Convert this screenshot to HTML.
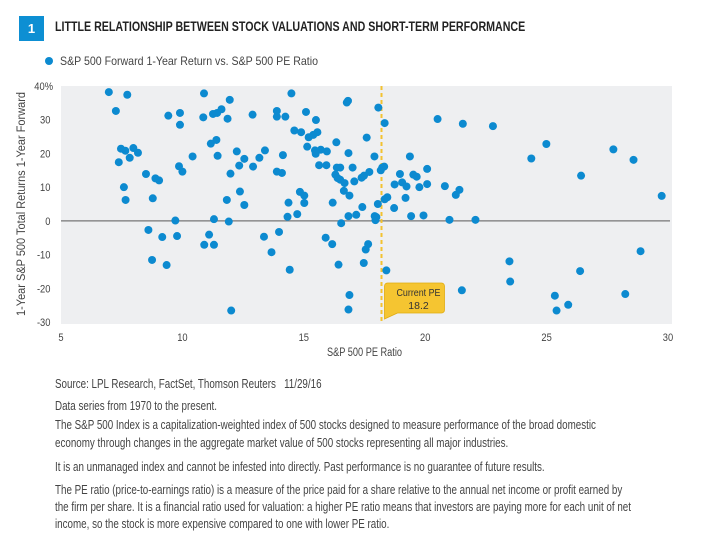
<!DOCTYPE html>
<html><head><meta charset="utf-8"><style>
body{margin:0;background:#fff;width:728px;height:556px;overflow:hidden;font-family:"Liberation Sans",sans-serif;}
.t{position:absolute;color:#444;font-size:12.5px;line-height:16px;white-space:nowrap;transform:scaleX(0.785);transform-origin:0 0;}
</style></head><body>
<div style="position:relative;width:728px;height:556px;overflow:hidden">
<div style="position:absolute;left:19px;top:16px;width:25px;height:25px;background:#0d8fd3;color:#fff;font:bold 13px 'Liberation Sans',sans-serif;text-align:center;line-height:25px;">1</div>
<div style="position:absolute;left:55px;top:19px;font:bold 13.5px 'Liberation Sans',sans-serif;color:#222;white-space:nowrap;transform:scaleX(0.79);transform-origin:0 0;">LITTLE RELATIONSHIP BETWEEN STOCK VALUATIONS AND SHORT-TERM PERFORMANCE</div>
<svg width="728" height="380" style="position:absolute;left:0;top:0" id="chart" font-family="Liberation Sans, sans-serif"></svg>
<div class="t" style="left:55px;top:376px">Source: LPL Research, FactSet, Thomson Reuters &nbsp;&nbsp;11/29/16</div>
<div class="t" style="left:55px;top:398px">Data series from 1970 to the present.</div>
<div class="t" style="left:55px;top:416px;line-height:18px">The S&amp;P 500 Index is a capitalization-weighted index of 500 stocks designed to measure performance of the broad domestic<br>economy through changes in the aggregate market value of 500 stocks representing all major industries.</div>
<div class="t" style="left:55px;top:459px">It is an unmanaged index and cannot be infested into directly. Past performance is no guarantee of future results.</div>
<div class="t" style="left:55px;top:482px;line-height:17px">The PE ratio (price-to-earnings ratio) is a measure of the price paid for a share relative to the annual net income or profit earned by<br>the firm per share. It is a financial ratio used for valuation: a higher PE ratio means that investors are paying more for each unit of net<br>income, so the stock is more expensive compared to one with lower PE ratio.</div>
</div>
<script>
const peValues=[6.97,7.73,7.26,9.42,9.9,9.9,10.89,11.95,10.86,11.26,11.43,11.61,11.86,12.89,7.47,7.65,7.98,8.17,7.83,7.38,10.42,11.17,11.4,11.45,12.24,12.55,12.34,12.91,13.17,9.86,10.0,8.5,8.89,9.04,11.98,7.59,7.66,8.78,11.83,12.37,12.55,9.71,11.3,11.91,8.6,9.17,9.78,11.1,10.9,11.3,8.75,9.35,12.01,
14.49,13.89,13.89,14.24,15.09,15.5,16.77,16.82,18.07,18.33,20.51,14.61,14.89,15.56,15.39,15.2,15.14,16.34,17.59,13.4,14.14,15.46,15.49,15.7,15.95,16.84,17.91,19.37,13.89,14.1,15.63,15.93,16.36,16.5,17.01,18.17,18.23,18.31,16.3,16.39,16.5,16.68,17.08,17.38,17.48,17.7,18.96,18.74,19.05,19.23,19.51,19.65,19.76,20.08,20.08,20.81,14.84,15.02,14.37,15.02,16.19,16.65,16.88,17.41,18.05,18.33,18.44,19.19,18.72,14.33,14.73,16.84,17.16,17.92,17.99,17.95,19.42,19.93,21.0,16.54,13.36,13.98,13.67,14.42,15.9,16.17,17.55,17.65,16.43,17.47,18.4,16.88,16.84,
21.55,22.79,24.99,24.37,27.75,28.58,26.42,29.74,21.41,21.26,22.07,28.87,23.47,23.5,26.38,21.51,28.24,25.34,25.41,25.89];
const returnValues=[38.2,37.4,32.6,31.2,32.0,28.5,37.8,35.9,30.7,31.7,32.0,33.1,30.3,31.5,21.4,20.8,21.6,20.2,18.7,17.4,19.1,22.9,24.0,19.3,20.6,18.4,16.4,16.1,18.7,16.2,14.6,13.9,12.6,12.0,14.0,10.0,6.2,6.7,6.2,8.7,4.7,0.1,0.5,-0.2,-2.7,-4.8,-4.5,-4.1,-7.1,-7.1,-11.6,-13.1,-26.6,
37.8,32.6,30.9,30.9,32.3,29.9,35.1,35.6,33.6,29.0,30.2,26.8,26.3,26.3,25.5,24.8,22.0,23.3,24.7,20.9,19.5,20.9,19.9,21.1,20.6,20.1,19.1,19.1,14.6,14.2,16.5,16.5,15.8,15.8,15.8,15.0,15.8,16.1,13.7,12.7,12.2,11.2,11.7,12.8,13.4,14.5,13.9,10.8,11.4,10.2,13.7,13.1,10.0,15.4,10.9,10.3,8.6,7.5,5.4,5.3,5.4,8.9,7.5,4.1,5.0,6.4,7.0,6.8,3.8,1.2,2.0,1.4,1.8,1.4,1.1,0.2,1.4,1.6,0.3,-0.7,-4.7,-3.3,-9.3,-14.5,-5.0,-6.9,-8.5,-6.9,-13.0,-12.5,-14.7,-22.0,-26.3,
28.8,28.1,22.8,18.5,21.2,18.1,13.4,7.4,9.2,7.7,0.3,-9.0,-12.0,-18.0,-14.9,-20.6,-21.7,-22.2,-26.6,-24.9];
const xTicks=[5,10,15,20,25,30];
const yTicks=[40,30,20,10,0,-10,-20,-30];
const currentPE=18.2;
const legendLabel="S&P 500 Forward 1-Year Return vs. S&P 500 PE Ratio";

const NS="http://www.w3.org/2000/svg";
const svg=document.getElementById('chart');
const X0=61,X1=668,Y0=86,Y1=322;
function xs(v){return X0+(v-5)/25*(X1-X0);}
function ys(v){return Y0+(40-v)/70*(Y1-Y0);}
function mk(tag,attrs,parent){const e=document.createElementNS(NS,tag);for(const k in attrs)e.setAttribute(k,attrs[k]);(parent||svg).appendChild(e);return e;}

const bg=mk('rect',{x:X0,y:Y0,width:X1-X0+4,height:Y1-Y0+2,fill:'#eeeff1'});



const zl=mk('line',{x1:X0,x2:X1+2,y1:ys(0),y2:ys(0),stroke:'#777','stroke-width':1.2});



const pl=mk('line',{x1:xs(currentPE),x2:xs(currentPE),y1:Y0,y2:Y1,stroke:'#f3c230','stroke-width':2,'stroke-dasharray':'4,3'});



for(let i=0;i<peValues.length;i++){
  const c=mk('circle',{cx:xs(peValues[i]),cy:ys(returnValues[i]),r:4,fill:'#0c8ad0'});
  
  
}

for(const t of xTicks){
  const e=mk('text',{x:xs(t),y:341,'text-anchor':'middle','font-size':11,fill:'#444',transform:`translate(${xs(t)},0) scale(0.85,1) translate(${-xs(t)},0)`});
  e.textContent=t;
  
  
}
for(const t of yTicks){
  const e=mk('text',{x:t===40?53:50,y:ys(t)+4,'text-anchor':'end','font-size':11,fill:'#444',transform:`translate(53,0) scale(0.85,1) translate(-53,0)`});
  e.textContent=t===40?t+'%':t;
  
  
}
const xt=mk('text',{x:327,y:356,'font-size':11.5,fill:'#444',textLength:75,lengthAdjust:'spacingAndGlyphs'});
xt.textContent='S&P 500 PE Ratio';


const yt=mk('text',{x:-112,y:0,'font-size':11.5,fill:'#444',transform:'translate(25,204) rotate(-90)',textLength:224,lengthAdjust:'spacingAndGlyphs'});
yt.textContent='1-Year S&P 500 Total Returns 1-Year Forward';



const ld=mk('circle',{cx:49,cy:61,r:4,fill:'#0c8ad0'});


const lt=mk('text',{x:60,y:65,'font-size':12,fill:'#444',textLength:258,lengthAdjust:'spacingAndGlyphs'});
lt.textContent=legendLabel;



const cx=xs(currentPE);
const cb=mk('path',{d:`M${cx+10},283 h50 a3,3 0 0 1 3,3 v24 a3,3 0 0 1 -3,3 h-44 l-13,6 v-6 v-27 a3,3 0 0 1 3,-3 z`,fill:'#f5c531',stroke:'#e0ac10','stroke-width':0.8});


const c1=mk('text',{x:cx+15,y:296,'font-size':10.5,fill:'#333',textLength:44,lengthAdjust:'spacingAndGlyphs'});
c1.textContent='Current PE';


const c2=mk('text',{x:cx+37,y:309,'text-anchor':'middle','font-size':10.5,fill:'#333'});
c2.textContent=String(currentPE);


</script>
</body></html>
